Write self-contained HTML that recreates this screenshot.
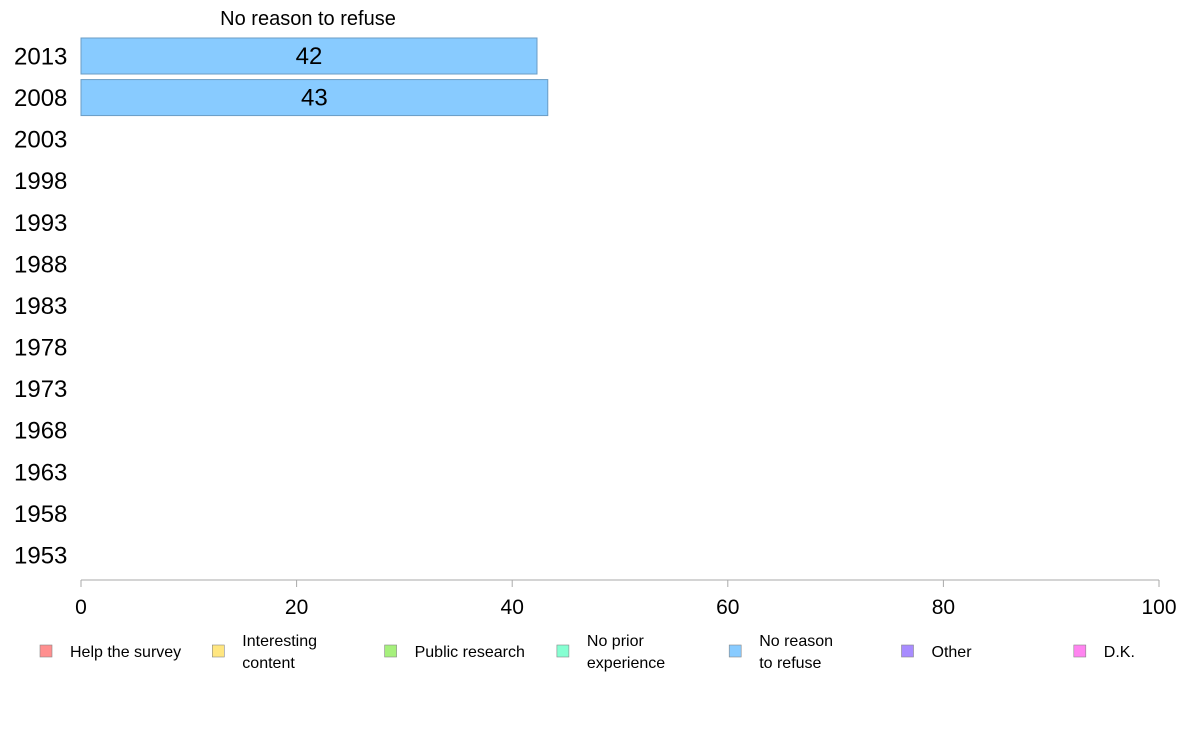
<!DOCTYPE html>
<html><head><meta charset="utf-8"><style>
body{margin:0;background:#fff;}
svg{display:block;font-family:"Liberation Sans",Arial,sans-serif;}
</style></head><body>
<svg id="chart" width="1188" height="736" viewBox="0 0 1188 736">
<text x="308" y="25" font-size="20" text-anchor="middle">No reason to refuse</text>
<g id="years"></g><g id="bars"></g><g id="axis"></g><g id="legend"></g>
</svg>
<script>
const years = [2013,2008,2003,1998,1993,1988,1983,1978,1973,1968,1963,1958,1953];
const barYears = [2013,2008];
const barValues = [42.3,43.3];
const barLabels = ["42","43"];
const xTicks = [0,20,40,60,80,100];
const legendLabels = [["Help the survey"],["Interesting","content"],["Public research"],["No prior","experience"],["No reason","to refuse"],["Other"],["D.K."]];
const legendColors = ["#ff8f8f","#ffe680","#a6f07c","#86ffd2","#88cbff","#a88cff","#ff84f0"];
const NS="http://www.w3.org/2000/svg";
const x0=81,x1=1159;
const xs=v=>x0+(x1-x0)*v/100;
const ys=yr=>56+years.indexOf(yr)*41.58;
function mk(tag,attrs,parent,text){const e=document.createElementNS(NS,tag);for(const k in attrs)e.setAttribute(k,attrs[k]);if(text!==undefined)e.textContent=text;parent.appendChild(e);return e;}
const gY=document.getElementById('years');
years.forEach(yr=>{
 const t=mk('text',{x:14,y:ys(yr)+8.5,'font-size':24},gY,String(yr));
 
 
});
const gB=document.getElementById('bars');
barYears.forEach((yr,i)=>{
 const r=mk('rect',{x:x0,y:ys(yr)-18,width:xs(barValues[i])-x0,height:36,fill:'#88cbff',stroke:'#6b9cc4','stroke-width':1},gB);
 
 
 const t=mk('text',{x:(x0+xs(barValues[i]))/2,y:ys(yr)+8,'font-size':24,'text-anchor':'middle'},gB,barLabels[i]);
 
 
});
const gA=document.getElementById('axis');
const al=mk('line',{x1:x0,x2:x1,y1:580,y2:580,stroke:'#aaa','stroke-width':1},gA);


xTicks.forEach(v=>{
 const l=mk('line',{x1:xs(v),x2:xs(v),y1:580,y2:587,stroke:'#aaa'},gA);
 
 
 const t=mk('text',{x:xs(v),y:614,'font-size':21,'text-anchor':'middle'},gA,String(v));
 
 
});
const gL=document.getElementById('legend');
legendLabels.forEach((lines,i)=>{
 const lx=40+i*172.3;
 const g=mk('g',{},gL);
 
 
 mk('rect',{x:lx,y:645,width:12,height:12,fill:legendColors[i],stroke:'#888','stroke-width':0.6},g);
 if(lines.length===1){mk('text',{x:lx+30,y:657,'font-size':16},g,lines[0]);}
 else{mk('text',{x:lx+202-172+0,y:646,'font-size':16},g,lines[0]);mk('text',{x:lx+30,y:668,'font-size':16},g,lines[1]);}
});
</script>
</body></html>
